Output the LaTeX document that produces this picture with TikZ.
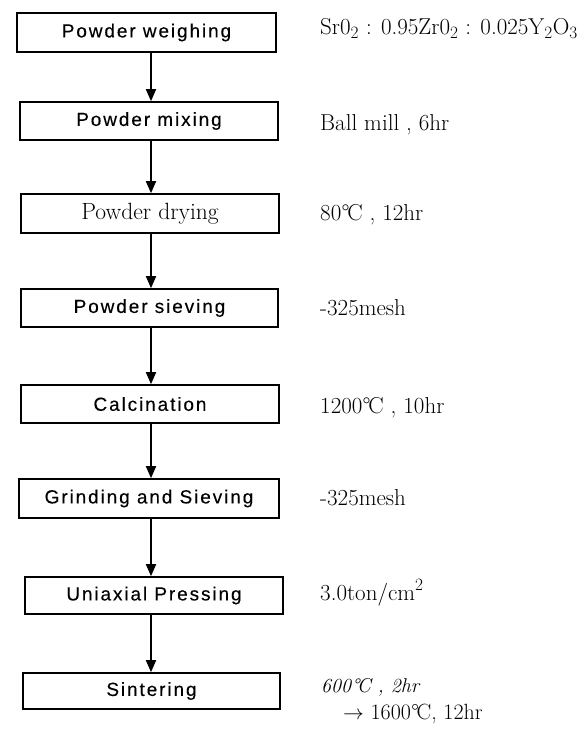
\documentclass[tikz,border=0pt]{standalone}
\usepackage{fontspec}
\newfontfamily\boxsans[LetterSpace=10,FakeBold=0.25]{Liberation Sans}
\usetikzlibrary{arrows.meta}
\newcommand{\degC}{\kern0.3pt°\kern-2.2pt C}
\begin{document}
\begin{tikzpicture}[x=1pt,y=-1pt,
  stage/.style={draw=black,line width=1.6pt,inner sep=0pt,
    font=\boxsans\fontsize{19}{21}\selectfont},
  serifstage/.style={stage,font=\rmfamily\fontsize{23.5}{26}\selectfont\addfontfeatures{FakeBold=0.4}},
  note/.style={anchor=base west,inner sep=0pt,
    font=\rmfamily\fontsize{23}{26}\selectfont\addfontfeatures{FakeBold=0.4}},
  flow/.style={line width=1.7pt,-{Triangle[width=10pt,length=12pt]}}]
\useasboundingbox (0,0) rectangle (587,731);
% stages
\node[stage,minimum width=259pt,minimum height=39pt] (b1) at (146.5,32.5) {Powder weighing};
\node[stage,minimum width=258pt,minimum height=38pt] (b2) at (149,121) {Powder mixing};
\node[serifstage,minimum width=258pt,minimum height=39pt] (b3) at (150,213.5) {Powder drying};
\node[stage,minimum width=257pt,minimum height=38pt] (b4) at (149.5,308) {Powder sieving};
\node[stage,minimum width=258pt,minimum height=38pt] (b5) at (150,404) {Calcination};
\node[stage,minimum width=260pt,minimum height=39pt] (b6) at (149,498.5) {Grinding and Sieving};
\node[stage,minimum width=258pt,minimum height=37pt] (b7) at (154,595.5) {Uniaxial Pressing};
\node[stage,minimum width=257pt,minimum height=36pt] (b8) at (151.5,691) {Sintering};
% arrows
\coordinate (ax) at (151,0);
\draw[flow] (b1.south -| ax) -- (b2.north -| ax);
\draw[flow] (b2.south -| ax) -- (b3.north -| ax);
\draw[flow] (b3.south -| ax) -- (b4.north -| ax);
\draw[flow] (b4.south -| ax) -- (b5.north -| ax);
\draw[flow] (b5.south -| ax) -- (b6.north -| ax);
\draw[flow] (b6.south -| ax) -- (b7.north -| ax);
\draw[flow] (b7.south -| ax) -- (b8.north -| ax);
% notes
\node[note] (n1) at (320,34.5) {Sr0$_2$ : 0.95Zr0$_2$ : 0.025Y$_2$O$_3$};
\node[note] (n2) at (320,130) {Ball mill , 6hr};
\node[note] (n3) at (320,220.5) {80\degC{} , 12hr};
\node[note] (n4) at (320,315) {-325mesh};
\node[note] (n5) at (320,413.5) {1200\degC{} , 10hr};
\node[note] (n6) at (320,505.5) {-325mesh};
\node[note] (n7) at (320,600) {3.0ton/cm$^2$};
\node[note,font=\rmfamily\itshape\fontsize{20}{22}\selectfont\addfontfeatures{FakeBold=0.4}] (n8) at (321,692) {600\degC{} , 2hr};
\node[note,font=\rmfamily\fontsize{22}{24}\selectfont\addfontfeatures{FakeBold=0.4}] (n9) at (343,719) {$\rightarrow$ 1600\degC, 12hr};
\end{tikzpicture}
\end{document}
